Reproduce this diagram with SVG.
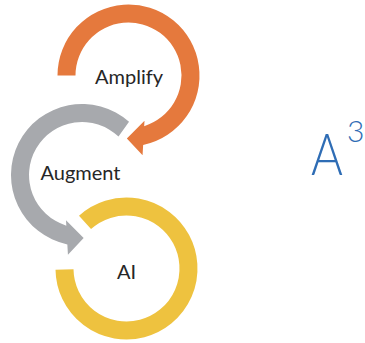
<svg xmlns="http://www.w3.org/2000/svg" width="365" height="343" viewBox="0 0 365 343">
<style>
.lbl{font-family:Lato,"Liberation Sans",sans-serif;font-size:20px;fill:#262626;text-anchor:middle}
.big{font-family:Lato,"Liberation Sans",sans-serif;font-weight:300;fill:#2f6db5}
</style>
<rect width="365" height="343" fill="#ffffff"/>
<g id="connectors">
  <path id="arrow-amplify" d="M 57.5 75.5 A 71 71 0 1 1 143.15 144.97 L 142.57 155.27 L 126.85 138.48 L 144.5 120.75 L 144.18 126.13 A 53 53 0 1 0 75.5 75.5 Z" fill="#e5793d"/>
  <path id="arrow-augment" d="M 129.04 121.82 A 71 71 0 1 0 67.35 244.47 L 67.93 254.77 L 83.65 237.98 L 66.0 220.25 L 66.32 225.63 A 53 53 0 1 1 118.5 136.55 Z" fill="#a7a9ad"/>
  <path id="ring-ai" d="M 85.01 222.42 A 62 62 0 1 1 64.5 269.5" fill="none" stroke="#eec23f" stroke-width="18"/>
</g>
<g id="amplify"><text class="lbl" x="129" y="84">Amplify</text></g>
<g id="augment"><text class="lbl" x="80.5" y="180">Augment</text></g>
<g id="ai"><text class="lbl" x="126.5" y="279">AI</text></g>
<g id="a-cubed">
  <text class="big" transform="translate(311,175) scale(0.84,1)" x="0" y="0" font-size="58">A</text>
  <text class="big" x="347" y="142" font-size="30">3</text>
</g>
</svg>
